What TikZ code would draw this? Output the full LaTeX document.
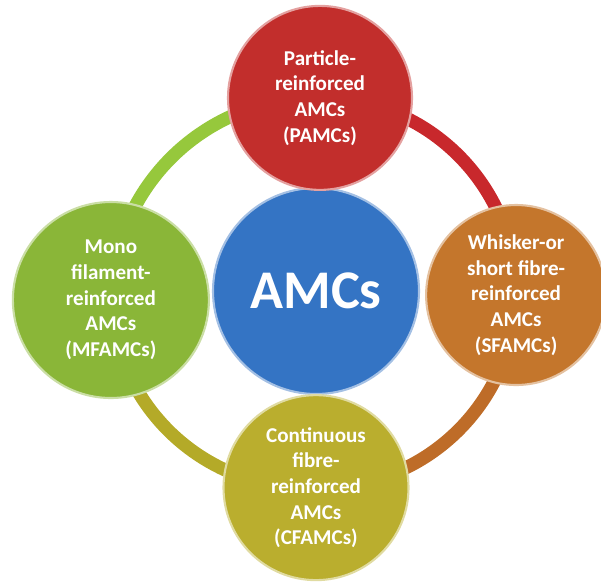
\documentclass[tikz,border=0pt]{standalone}
\usepackage{fontspec}
\newfontfamily\carlito{Carlito}
\usetikzlibrary{positioning, backgrounds}
\definecolor{amcblue}{RGB}{52,116,196}
\definecolor{amcred}{RGB}{194,46,44}
\definecolor{amcgreen}{RGB}{138,182,56}
\definecolor{amcorange}{RGB}{196,118,44}
\definecolor{amcyellow}{RGB}{186,174,46}
\definecolor{ringgreen}{RGB}{150,200,60}
\definecolor{ringred}{RGB}{200,40,44}
\definecolor{ringorange}{RGB}{190,108,40}
\definecolor{ringyellow}{RGB}{180,170,40}
\tikzset{
  circ1/.style = {
    shape = circle,
    fill = #1,
    draw = #1!45!white,
    line width = 1.2pt,
    text = white,
    align = center,
    inner sep = 0pt,
    font = \carlito\bfseries\fontsize{12}{14.6}\selectfont,
  }
}
\tikzset{
  arc1/.style = {
    draw = #1, line width = 7.5pt,
  }
}

\begin{document}
\begin{tikzpicture}
        \useasboundingbox (-6.32,-5.80) rectangle (5.70,5.82);
        \node[circ1 = amcblue, minimum size = 4.12cm, font = \carlito\bfseries\fontsize{31}{36}\selectfont](amc){AMCs};
        \node[circ1 = amcred, minimum size = 3.68cm, above = -0.08cm of amc, xshift = 0.08cm](pamc){Particle-\\reinforced\\AMCs\\(PAMCs)};
        \node[circ1 = amcgreen, minimum size = 3.92cm, left = 0.04cm of amc, yshift = -0.18cm](mfamc){Mono\\filament-\\reinforced\\AMCs\\(MFAMCs)};
        \node[circ1 = amcorange, minimum size = 3.6cm, right = 0.1cm of amc, yshift = -0.08cm](sfamc){Whisker-or\\short fibre-\\reinforced\\AMCs\\(SFAMCs)};
        \node[circ1 = amcyellow, minimum size = 3.7cm, below = -0.02cm of amc](cfamc){Continuous\\fibre-\\reinforced\\AMCs\\(CFAMCs)};
        \begin{scope}[on background layer]
            \draw[arc1 = ringgreen](mfamc.center) to[bend left = 45] (pamc.center);
            \draw[arc1 = ringred](pamc.center) to[bend left = 45] (sfamc.center);
            \draw[arc1 = ringorange](sfamc.center) to[bend left = 45] (cfamc.center);
            \draw[arc1 = ringyellow](cfamc.center) to[bend left = 45] (mfamc.center);
        \end{scope}
    \end{tikzpicture}
\end{document}
